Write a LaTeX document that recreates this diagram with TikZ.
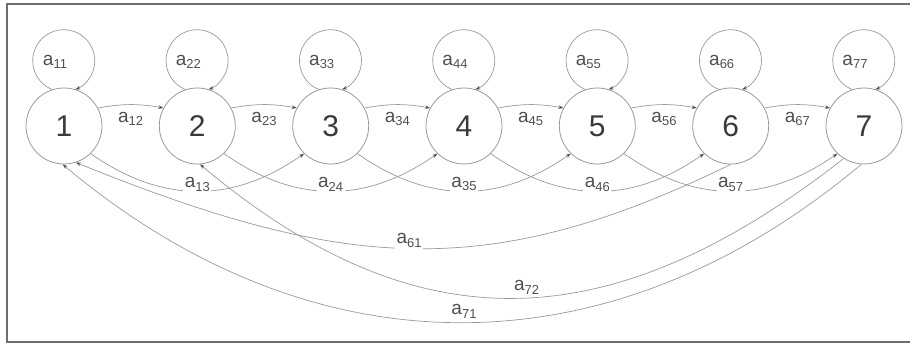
\documentclass[tikz,border=0pt]{standalone}
\usepackage{fontspec}
\setmainfont{Liberation Sans}
\usetikzlibrary{arrows.meta}
\definecolor{ln}{HTML}{999999}
\definecolor{tx}{HTML}{3A3A3A}
\definecolor{lt}{HTML}{505050}
\definecolor{tip}{HTML}{4A4A4A}
\definecolor{fr}{HTML}{6E6E6E}
\newcommand\aij[1]{a\raisebox{-3.5pt}{\fontsize{13}{13}\selectfont #1}}
\begin{document}
\begin{tikzpicture}[x=1pt,y=1pt,
  st/.style={circle, draw=ln, line width=0.8pt, minimum size=76pt, inner sep=0pt,
             text=tx, font=\fontsize{30}{30}\selectfont},
  con/.style={draw=ln, line width=0.7pt, -{Stealth[length=5pt,width=3.5pt,color=tip]}},
  lbl/.style={text=lt, font=\fontsize{19}{19}\selectfont, inner sep=1.5pt},
  lblw/.style={lbl, fill=white, inner ysep=3pt}]
\useasboundingbox (0,0) rectangle (910,346);
\draw[fr, line width=1.5pt] (7,4) rectangle (916,342);
% states
\foreach \i/\x in {1/64,2/197.3,3/330.7,4/464,5/597.3,6/730.7,7/864}
  \node[st] (n\i) at (\x,220) {\i};
% self loops
\foreach \i in {1,...,7} {
  \draw[con] (n\i.108) arc[start angle=-112, end angle=-428, radius=31];
  \path (n\i) -- ++(-9,64) node[lbl] (s\i) {\aij{\i\i}};
}
% adjacent transitions
\foreach \i/\j in {1/2,2/3,3/4,4/5,5/6,6/7} {
  \draw[con] (n\i.28) to[bend left=10] (n\j.152);
  \path (n\i) -- (n\j) node[midway, lbl, yshift=7pt] (m\i\j) {\aij{\i\j}};
}
% skip-one transitions
\foreach \i/\j in {1/3,2/4,3/5,4/6,5/7}
  \draw[con] (n\i.-46) to[out=-35, in=-145, looseness=1.05]
     node[lblw, pos=0.5, yshift=7pt] (k\i\j) {\aij{\i\j}} (n\j.-134);
% long returns
\draw[con] (n6.-90) to[out=206, in=-22, out distance=270pt, in distance=290pt]
   node[lblw, pos=0.5, yshift=8pt, xshift=-4pt] (r61) {\aij{61}} (n1.-72);
\draw[con] (n7.-122) to[out=218, in=-40, out distance=300pt, in distance=280pt]
   node[lblw, pos=0.5, yshift=11pt, xshift=13pt] (r72) {\aij{72}} (n2.-86);
\draw[con] (n7.-94) to[out=220, in=-40, out distance=328pt, in distance=328pt]
   node[lblw, pos=0.5, yshift=11pt, xshift=2pt] (r71) {\aij{71}} (n1.-92);
\end{tikzpicture}
\end{document}
